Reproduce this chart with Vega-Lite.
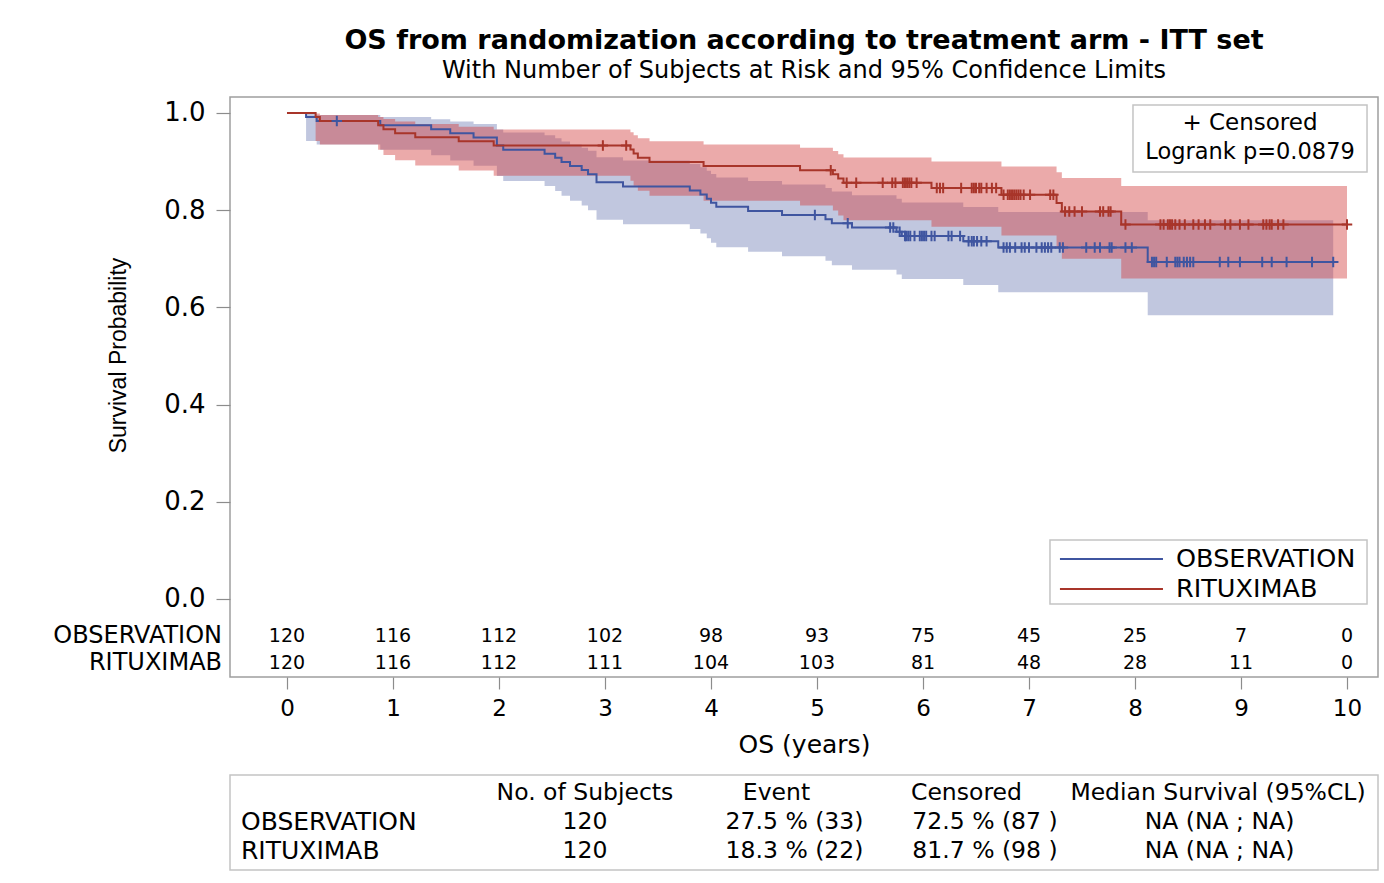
{
  "$schema": "https://vega.github.io/schema/vega-lite/v6.json",
  "width": 1148,
  "height": 580,
  "autosize": {"type": "none"},
  "padding": {"left": 230, "top": 97, "right": 6, "bottom": 206},
  "background": "white",
  "config": {
    "font": "DejaVu Sans",
    "view": {"stroke": "#9e9e9e", "strokeWidth": 1.5},
    "axis": {"grid": false, "domain": false, "tickColor": "#8c8c8c", "tickWidth": 1.2, "labelColor": "#000", "titleColor": "#000", "titleFontWeight": "normal", "labelFont": "DejaVu Sans"},
    "text": {"color": "#000", "baseline": "middle"}
  },
  "title": {
    "text": "OS from randomization according to treatment arm - ITT set",
    "subtitle": "With Number of Subjects at Risk and 95% Confidence Limits",
    "frame": "group",
    "anchor": "middle",
    "font": "DejaVu Sans",
    "fontSize": 27,
    "fontWeight": "bold",
    "color": "#000",
    "subtitleFont": "DejaVu Sans",
    "subtitleFontSize": 24,
    "subtitleColor": "#000",
    "offset": 13,
    "subtitlePadding": 4
  },
  "datasets": {
    "km": [
      {"arm": "OBSERVATION", "t": 0, "s": 1, "lo": 1, "hi": 1},
      {"arm": "OBSERVATION", "t": 0.18, "s": 0.9917, "lo": 0.9423, "hi": 0.9988},
      {"arm": "OBSERVATION", "t": 0.28, "s": 0.9833, "lo": 0.935, "hi": 0.9958},
      {"arm": "OBSERVATION", "t": 0.88, "s": 0.9749, "lo": 0.9243, "hi": 0.9918},
      {"arm": "OBSERVATION", "t": 1.36, "s": 0.9665, "lo": 0.9133, "hi": 0.9873},
      {"arm": "OBSERVATION", "t": 1.54, "s": 0.9581, "lo": 0.9023, "hi": 0.9824},
      {"arm": "OBSERVATION", "t": 1.76, "s": 0.9497, "lo": 0.8915, "hi": 0.9771},
      {"arm": "OBSERVATION", "t": 1.98, "s": 0.9329, "lo": 0.8703, "hi": 0.9659},
      {"arm": "OBSERVATION", "t": 2.04, "s": 0.9245, "lo": 0.8599, "hi": 0.96},
      {"arm": "OBSERVATION", "t": 2.43, "s": 0.9161, "lo": 0.8497, "hi": 0.954},
      {"arm": "OBSERVATION", "t": 2.53, "s": 0.9077, "lo": 0.8395, "hi": 0.9478},
      {"arm": "OBSERVATION", "t": 2.59, "s": 0.8993, "lo": 0.8295, "hi": 0.9415},
      {"arm": "OBSERVATION", "t": 2.67, "s": 0.8909, "lo": 0.8195, "hi": 0.9352},
      {"arm": "OBSERVATION", "t": 2.78, "s": 0.8825, "lo": 0.8096, "hi": 0.9287},
      {"arm": "OBSERVATION", "t": 2.84, "s": 0.8741, "lo": 0.7999, "hi": 0.9221},
      {"arm": "OBSERVATION", "t": 2.92, "s": 0.8573, "lo": 0.7805, "hi": 0.9088},
      {"arm": "OBSERVATION", "t": 3.17, "s": 0.8489, "lo": 0.7709, "hi": 0.902},
      {"arm": "OBSERVATION", "t": 3.8, "s": 0.8405, "lo": 0.7614, "hi": 0.8951},
      {"arm": "OBSERVATION", "t": 3.9, "s": 0.8321, "lo": 0.7519, "hi": 0.8882},
      {"arm": "OBSERVATION", "t": 3.96, "s": 0.8237, "lo": 0.7425, "hi": 0.8813},
      {"arm": "OBSERVATION", "t": 4.0, "s": 0.8153, "lo": 0.7331, "hi": 0.8743},
      {"arm": "OBSERVATION", "t": 4.05, "s": 0.8069, "lo": 0.7238, "hi": 0.8672},
      {"arm": "OBSERVATION", "t": 4.35, "s": 0.7985, "lo": 0.7145, "hi": 0.8601},
      {"arm": "OBSERVATION", "t": 4.67, "s": 0.79, "lo": 0.7053, "hi": 0.8529},
      {"arm": "OBSERVATION", "t": 5.08, "s": 0.7816, "lo": 0.696, "hi": 0.8457},
      {"arm": "OBSERVATION", "t": 5.14, "s": 0.7731, "lo": 0.6868, "hi": 0.8384},
      {"arm": "OBSERVATION", "t": 5.33, "s": 0.7645, "lo": 0.6774, "hi": 0.8309},
      {"arm": "OBSERVATION", "t": 5.75, "s": 0.7557, "lo": 0.6678, "hi": 0.8233},
      {"arm": "OBSERVATION", "t": 5.8, "s": 0.7468, "lo": 0.6582, "hi": 0.8156},
      {"arm": "OBSERVATION", "t": 6.38, "s": 0.7361, "lo": 0.6461, "hi": 0.8066},
      {"arm": "OBSERVATION", "t": 6.71, "s": 0.7234, "lo": 0.6311, "hi": 0.7963},
      {"arm": "OBSERVATION", "t": 8.12, "s": 0.6933, "lo": 0.5836, "hi": 0.7795},
      {"arm": "OBSERVATION", "t": 9.87, "s": 0.6933, "lo": 0.5836, "hi": 0.7795},
      {"arm": "RITUXIMAB", "t": 0, "s": 1, "lo": 1, "hi": 1},
      {"arm": "RITUXIMAB", "t": 0.27, "s": 0.9917, "lo": 0.9423, "hi": 0.9988},
      {"arm": "RITUXIMAB", "t": 0.31, "s": 0.9833, "lo": 0.935, "hi": 0.9958},
      {"arm": "RITUXIMAB", "t": 0.86, "s": 0.975, "lo": 0.9245, "hi": 0.9919},
      {"arm": "RITUXIMAB", "t": 0.91, "s": 0.9667, "lo": 0.9136, "hi": 0.9874},
      {"arm": "RITUXIMAB", "t": 1.02, "s": 0.9583, "lo": 0.9028, "hi": 0.9824},
      {"arm": "RITUXIMAB", "t": 1.21, "s": 0.95, "lo": 0.8921, "hi": 0.9772},
      {"arm": "RITUXIMAB", "t": 1.62, "s": 0.9417, "lo": 0.8816, "hi": 0.9718},
      {"arm": "RITUXIMAB", "t": 1.95, "s": 0.9333, "lo": 0.8711, "hi": 0.9661},
      {"arm": "RITUXIMAB", "t": 3.24, "s": 0.9249, "lo": 0.8605, "hi": 0.9602},
      {"arm": "RITUXIMAB", "t": 3.27, "s": 0.9164, "lo": 0.8501, "hi": 0.9541},
      {"arm": "RITUXIMAB", "t": 3.31, "s": 0.9079, "lo": 0.8398, "hi": 0.9479},
      {"arm": "RITUXIMAB", "t": 3.42, "s": 0.8994, "lo": 0.8296, "hi": 0.9416},
      {"arm": "RITUXIMAB", "t": 3.93, "s": 0.8909, "lo": 0.8195, "hi": 0.9352},
      {"arm": "RITUXIMAB", "t": 4.84, "s": 0.8823, "lo": 0.8094, "hi": 0.9286},
      {"arm": "RITUXIMAB", "t": 5.15, "s": 0.8737, "lo": 0.7992, "hi": 0.9219},
      {"arm": "RITUXIMAB", "t": 5.2, "s": 0.865, "lo": 0.7891, "hi": 0.9151},
      {"arm": "RITUXIMAB", "t": 5.25, "s": 0.8564, "lo": 0.7791, "hi": 0.9082},
      {"arm": "RITUXIMAB", "t": 6.08, "s": 0.8457, "lo": 0.7659, "hi": 0.9},
      {"arm": "RITUXIMAB", "t": 6.74, "s": 0.832, "lo": 0.7478, "hi": 0.8901},
      {"arm": "RITUXIMAB", "t": 7.26, "s": 0.8147, "lo": 0.7234, "hi": 0.8783},
      {"arm": "RITUXIMAB", "t": 7.31, "s": 0.7974, "lo": 0.7002, "hi": 0.866},
      {"arm": "RITUXIMAB", "t": 7.87, "s": 0.7708, "lo": 0.6594, "hi": 0.8498},
      {"arm": "RITUXIMAB", "t": 10.0, "s": 0.7708, "lo": 0.6594, "hi": 0.8498}
    ],
    "cens": [
      {"arm": "OBSERVATION", "t": 0.47, "s": 0.9833},
      {"arm": "OBSERVATION", "t": 4.98, "s": 0.79},
      {"arm": "OBSERVATION", "t": 5.29, "s": 0.7731},
      {"arm": "OBSERVATION", "t": 5.69, "s": 0.7645},
      {"arm": "OBSERVATION", "t": 5.72, "s": 0.7645},
      {"arm": "OBSERVATION", "t": 5.78, "s": 0.7557},
      {"arm": "OBSERVATION", "t": 5.83, "s": 0.7468},
      {"arm": "OBSERVATION", "t": 5.84, "s": 0.7468},
      {"arm": "OBSERVATION", "t": 5.86, "s": 0.7468},
      {"arm": "OBSERVATION", "t": 5.88, "s": 0.7468},
      {"arm": "OBSERVATION", "t": 5.92, "s": 0.7468},
      {"arm": "OBSERVATION", "t": 5.97, "s": 0.7468},
      {"arm": "OBSERVATION", "t": 5.99, "s": 0.7468},
      {"arm": "OBSERVATION", "t": 6.01, "s": 0.7468},
      {"arm": "OBSERVATION", "t": 6.03, "s": 0.7468},
      {"arm": "OBSERVATION", "t": 6.08, "s": 0.7468},
      {"arm": "OBSERVATION", "t": 6.11, "s": 0.7468},
      {"arm": "OBSERVATION", "t": 6.24, "s": 0.7468},
      {"arm": "OBSERVATION", "t": 6.27, "s": 0.7468},
      {"arm": "OBSERVATION", "t": 6.35, "s": 0.7468},
      {"arm": "OBSERVATION", "t": 6.43, "s": 0.7361},
      {"arm": "OBSERVATION", "t": 6.46, "s": 0.7361},
      {"arm": "OBSERVATION", "t": 6.48, "s": 0.7361},
      {"arm": "OBSERVATION", "t": 6.51, "s": 0.7361},
      {"arm": "OBSERVATION", "t": 6.55, "s": 0.7361},
      {"arm": "OBSERVATION", "t": 6.6, "s": 0.7361},
      {"arm": "OBSERVATION", "t": 6.76, "s": 0.7234},
      {"arm": "OBSERVATION", "t": 6.79, "s": 0.7234},
      {"arm": "OBSERVATION", "t": 6.82, "s": 0.7234},
      {"arm": "OBSERVATION", "t": 6.87, "s": 0.7234},
      {"arm": "OBSERVATION", "t": 6.93, "s": 0.7234},
      {"arm": "OBSERVATION", "t": 6.96, "s": 0.7234},
      {"arm": "OBSERVATION", "t": 7.0, "s": 0.7234},
      {"arm": "OBSERVATION", "t": 7.07, "s": 0.7234},
      {"arm": "OBSERVATION", "t": 7.12, "s": 0.7234},
      {"arm": "OBSERVATION", "t": 7.15, "s": 0.7234},
      {"arm": "OBSERVATION", "t": 7.18, "s": 0.7234},
      {"arm": "OBSERVATION", "t": 7.21, "s": 0.7234},
      {"arm": "OBSERVATION", "t": 7.29, "s": 0.7234},
      {"arm": "OBSERVATION", "t": 7.32, "s": 0.7234},
      {"arm": "OBSERVATION", "t": 7.54, "s": 0.7234},
      {"arm": "OBSERVATION", "t": 7.62, "s": 0.7234},
      {"arm": "OBSERVATION", "t": 7.67, "s": 0.7234},
      {"arm": "OBSERVATION", "t": 7.76, "s": 0.7234},
      {"arm": "OBSERVATION", "t": 7.78, "s": 0.7234},
      {"arm": "OBSERVATION", "t": 7.91, "s": 0.7234},
      {"arm": "OBSERVATION", "t": 7.97, "s": 0.7234},
      {"arm": "OBSERVATION", "t": 8.16, "s": 0.6933},
      {"arm": "OBSERVATION", "t": 8.18, "s": 0.6933},
      {"arm": "OBSERVATION", "t": 8.2, "s": 0.6933},
      {"arm": "OBSERVATION", "t": 8.3, "s": 0.6933},
      {"arm": "OBSERVATION", "t": 8.38, "s": 0.6933},
      {"arm": "OBSERVATION", "t": 8.4, "s": 0.6933},
      {"arm": "OBSERVATION", "t": 8.42, "s": 0.6933},
      {"arm": "OBSERVATION", "t": 8.46, "s": 0.6933},
      {"arm": "OBSERVATION", "t": 8.49, "s": 0.6933},
      {"arm": "OBSERVATION", "t": 8.52, "s": 0.6933},
      {"arm": "OBSERVATION", "t": 8.55, "s": 0.6933},
      {"arm": "OBSERVATION", "t": 8.8, "s": 0.6933},
      {"arm": "OBSERVATION", "t": 8.88, "s": 0.6933},
      {"arm": "OBSERVATION", "t": 8.99, "s": 0.6933},
      {"arm": "OBSERVATION", "t": 9.2, "s": 0.6933},
      {"arm": "OBSERVATION", "t": 9.29, "s": 0.6933},
      {"arm": "OBSERVATION", "t": 9.43, "s": 0.6933},
      {"arm": "OBSERVATION", "t": 9.67, "s": 0.6933},
      {"arm": "OBSERVATION", "t": 9.87, "s": 0.6933},
      {"arm": "RITUXIMAB", "t": 2.98, "s": 0.9333},
      {"arm": "RITUXIMAB", "t": 3.2, "s": 0.9333},
      {"arm": "RITUXIMAB", "t": 5.13, "s": 0.8823},
      {"arm": "RITUXIMAB", "t": 5.28, "s": 0.8564},
      {"arm": "RITUXIMAB", "t": 5.37, "s": 0.8564},
      {"arm": "RITUXIMAB", "t": 5.62, "s": 0.8564},
      {"arm": "RITUXIMAB", "t": 5.71, "s": 0.8564},
      {"arm": "RITUXIMAB", "t": 5.74, "s": 0.8564},
      {"arm": "RITUXIMAB", "t": 5.81, "s": 0.8564},
      {"arm": "RITUXIMAB", "t": 5.83, "s": 0.8564},
      {"arm": "RITUXIMAB", "t": 5.85, "s": 0.8564},
      {"arm": "RITUXIMAB", "t": 5.87, "s": 0.8564},
      {"arm": "RITUXIMAB", "t": 5.89, "s": 0.8564},
      {"arm": "RITUXIMAB", "t": 5.94, "s": 0.8564},
      {"arm": "RITUXIMAB", "t": 6.13, "s": 0.8457},
      {"arm": "RITUXIMAB", "t": 6.16, "s": 0.8457},
      {"arm": "RITUXIMAB", "t": 6.19, "s": 0.8457},
      {"arm": "RITUXIMAB", "t": 6.36, "s": 0.8457},
      {"arm": "RITUXIMAB", "t": 6.46, "s": 0.8457},
      {"arm": "RITUXIMAB", "t": 6.48, "s": 0.8457},
      {"arm": "RITUXIMAB", "t": 6.5, "s": 0.8457},
      {"arm": "RITUXIMAB", "t": 6.53, "s": 0.8457},
      {"arm": "RITUXIMAB", "t": 6.55, "s": 0.8457},
      {"arm": "RITUXIMAB", "t": 6.6, "s": 0.8457},
      {"arm": "RITUXIMAB", "t": 6.65, "s": 0.8457},
      {"arm": "RITUXIMAB", "t": 6.69, "s": 0.8457},
      {"arm": "RITUXIMAB", "t": 6.76, "s": 0.832},
      {"arm": "RITUXIMAB", "t": 6.8, "s": 0.832},
      {"arm": "RITUXIMAB", "t": 6.82, "s": 0.832},
      {"arm": "RITUXIMAB", "t": 6.84, "s": 0.832},
      {"arm": "RITUXIMAB", "t": 6.86, "s": 0.832},
      {"arm": "RITUXIMAB", "t": 6.88, "s": 0.832},
      {"arm": "RITUXIMAB", "t": 6.9, "s": 0.832},
      {"arm": "RITUXIMAB", "t": 6.92, "s": 0.832},
      {"arm": "RITUXIMAB", "t": 6.95, "s": 0.832},
      {"arm": "RITUXIMAB", "t": 7.01, "s": 0.832},
      {"arm": "RITUXIMAB", "t": 7.2, "s": 0.832},
      {"arm": "RITUXIMAB", "t": 7.23, "s": 0.832},
      {"arm": "RITUXIMAB", "t": 7.34, "s": 0.7974},
      {"arm": "RITUXIMAB", "t": 7.38, "s": 0.7974},
      {"arm": "RITUXIMAB", "t": 7.43, "s": 0.7974},
      {"arm": "RITUXIMAB", "t": 7.5, "s": 0.7974},
      {"arm": "RITUXIMAB", "t": 7.67, "s": 0.7974},
      {"arm": "RITUXIMAB", "t": 7.7, "s": 0.7974},
      {"arm": "RITUXIMAB", "t": 7.75, "s": 0.7974},
      {"arm": "RITUXIMAB", "t": 7.77, "s": 0.7974},
      {"arm": "RITUXIMAB", "t": 7.91, "s": 0.7708},
      {"arm": "RITUXIMAB", "t": 8.24, "s": 0.7708},
      {"arm": "RITUXIMAB", "t": 8.27, "s": 0.7708},
      {"arm": "RITUXIMAB", "t": 8.31, "s": 0.7708},
      {"arm": "RITUXIMAB", "t": 8.33, "s": 0.7708},
      {"arm": "RITUXIMAB", "t": 8.35, "s": 0.7708},
      {"arm": "RITUXIMAB", "t": 8.38, "s": 0.7708},
      {"arm": "RITUXIMAB", "t": 8.42, "s": 0.7708},
      {"arm": "RITUXIMAB", "t": 8.47, "s": 0.7708},
      {"arm": "RITUXIMAB", "t": 8.55, "s": 0.7708},
      {"arm": "RITUXIMAB", "t": 8.6, "s": 0.7708},
      {"arm": "RITUXIMAB", "t": 8.66, "s": 0.7708},
      {"arm": "RITUXIMAB", "t": 8.71, "s": 0.7708},
      {"arm": "RITUXIMAB", "t": 8.85, "s": 0.7708},
      {"arm": "RITUXIMAB", "t": 8.9, "s": 0.7708},
      {"arm": "RITUXIMAB", "t": 8.99, "s": 0.7708},
      {"arm": "RITUXIMAB", "t": 9.07, "s": 0.7708},
      {"arm": "RITUXIMAB", "t": 9.21, "s": 0.7708},
      {"arm": "RITUXIMAB", "t": 9.24, "s": 0.7708},
      {"arm": "RITUXIMAB", "t": 9.27, "s": 0.7708},
      {"arm": "RITUXIMAB", "t": 9.29, "s": 0.7708},
      {"arm": "RITUXIMAB", "t": 9.35, "s": 0.7708},
      {"arm": "RITUXIMAB", "t": 9.4, "s": 0.7708},
      {"arm": "RITUXIMAB", "t": 10.0, "s": 0.7708}
    ],
    "risk": [
      {"arm": "OBSERVATION", "t": 0, "n": 120},
      {"arm": "OBSERVATION", "t": 1, "n": 116},
      {"arm": "OBSERVATION", "t": 2, "n": 112},
      {"arm": "OBSERVATION", "t": 3, "n": 102},
      {"arm": "OBSERVATION", "t": 4, "n": 98},
      {"arm": "OBSERVATION", "t": 5, "n": 93},
      {"arm": "OBSERVATION", "t": 6, "n": 75},
      {"arm": "OBSERVATION", "t": 7, "n": 45},
      {"arm": "OBSERVATION", "t": 8, "n": 25},
      {"arm": "OBSERVATION", "t": 9, "n": 7},
      {"arm": "OBSERVATION", "t": 10, "n": 0},
      {"arm": "RITUXIMAB", "t": 0, "n": 120},
      {"arm": "RITUXIMAB", "t": 1, "n": 116},
      {"arm": "RITUXIMAB", "t": 2, "n": 112},
      {"arm": "RITUXIMAB", "t": 3, "n": 111},
      {"arm": "RITUXIMAB", "t": 4, "n": 104},
      {"arm": "RITUXIMAB", "t": 5, "n": 103},
      {"arm": "RITUXIMAB", "t": 6, "n": 81},
      {"arm": "RITUXIMAB", "t": 7, "n": 48},
      {"arm": "RITUXIMAB", "t": 8, "n": 28},
      {"arm": "RITUXIMAB", "t": 9, "n": 11},
      {"arm": "RITUXIMAB", "t": 10, "n": 0}
    ],
    "summary": [
      {"arm": "OBSERVATION", "subjects": 120, "event": "27.5 % (33)", "censored": "72.5 % (87 )", "median": "NA (NA ; NA)"},
      {"arm": "RITUXIMAB", "subjects": 120, "event": "18.3 % (22)", "censored": "81.7 % (98 )", "median": "NA (NA ; NA)"}
    ],
    "notes": [
      {"censor": "+ Censored", "logrank": "Logrank p=0.0879", "h1": "No. of Subjects", "h2": "Event", "h3": "Censored", "h4": "Median Survival (95%CL)"}
    ]
  },
  "layer": [
    {
      "data": {"name": "km"},
      "transform": [{"filter": "datum.arm === 'OBSERVATION'"}],
      "mark": {"type": "area", "interpolate": "step-after", "color": "#C1C7DF", "opacity": 1},
      "encoding": {
        "x": {"field": "t", "type": "quantitative", "scale": {"domain": [-0.5377, 10.2925], "nice": false, "zero": false},
          "axis": {"values": [0, 1, 2, 3, 4, 5, 6, 7, 8, 9, 10], "format": "d", "title": "OS (years)", "titleFontSize": 25, "labelFontSize": 23, "tickSize": 12, "labelPadding": 8, "titlePadding": 12}},
        "y": {"field": "lo", "type": "quantitative", "scale": {"domain": [-0.1605, 1.0329], "nice": false, "zero": false},
          "axis": {"values": [0, 0.2, 0.4, 0.6, 0.8, 1], "format": ".1f", "title": "Survival Probability", "titleFont": "Liberation Sans", "titleFontSize": 23, "titleY": 258, "labelFontSize": 26, "tickSize": 14, "labelPadding": 11, "titlePadding": 33}},
        "y2": {"field": "hi"}
      }
    },
    {
      "data": {"name": "km"},
      "transform": [{"filter": "datum.arm === 'RITUXIMAB'"}],
      "mark": {"type": "area", "interpolate": "step-after", "color": "#D23E3E", "opacity": 0.44},
      "encoding": {
        "x": {"field": "t", "type": "quantitative"},
        "y": {"field": "lo", "type": "quantitative"},
        "y2": {"field": "hi"}
      }
    },
    {
      "data": {"name": "km"},
      "mark": {"type": "line", "interpolate": "step-after", "strokeWidth": 2},
      "encoding": {
        "x": {"field": "t", "type": "quantitative"},
        "y": {"field": "s", "type": "quantitative"},
        "color": {"field": "arm", "type": "nominal", "scale": {"domain": ["OBSERVATION", "RITUXIMAB"], "range": ["#3F55A0", "#A8352A"]}, "legend": null}
      }
    },
    {
      "data": {"name": "cens"},
      "mark": {"type": "point", "shape": "M-1,0H1M0,-1V1", "size": 110, "strokeWidth": 2, "filled": false, "opacity": 1},
      "encoding": {
        "x": {"field": "t", "type": "quantitative"},
        "y": {"field": "s", "type": "quantitative"},
        "color": {"field": "arm", "type": "nominal", "legend": null}
      }
    },
    {
      "data": {"name": "risk"},
      "transform": [{"filter": "datum.arm === 'OBSERVATION'"}],
      "mark": {"type": "text", "fontSize": 19},
      "encoding": {
        "x": {"field": "t", "type": "quantitative"},
        "y": {"datum": -0.0761},
        "text": {"field": "n", "type": "quantitative"}
      }
    },
    {
      "data": {"name": "risk"},
      "transform": [{"filter": "datum.arm === 'RITUXIMAB'"}],
      "mark": {"type": "text", "fontSize": 19},
      "encoding": {
        "x": {"field": "t", "type": "quantitative"},
        "y": {"datum": -0.1317},
        "text": {"field": "n", "type": "quantitative"}
      }
    },
    {
      "data": {"name": "summary"},
      "transform": [{"filter": "datum.arm === 'OBSERVATION'"}],
      "mark": {"type": "text", "fontSize": 24, "align": "right"},
      "encoding": {"x": {"datum": -0.613}, "y": {"datum": -0.0761}, "text": {"field": "arm"}}
    },
    {
      "data": {"name": "summary"},
      "transform": [{"filter": "datum.arm === 'RITUXIMAB'"}],
      "mark": {"type": "text", "fontSize": 24, "align": "right"},
      "encoding": {"x": {"datum": -0.613}, "y": {"datum": -0.1317}, "text": {"field": "arm"}}
    },
    {
      "data": {"name": "notes"},
      "mark": {"type": "rect", "filled": false, "color": "#c4c4c4", "strokeWidth": 1.5},
      "encoding": {"x": {"datum": 7.981}, "x2": {"datum": 10.189}, "y": {"datum": 1.0165}, "y2": {"datum": 0.8786}}
    },
    {
      "data": {"name": "notes"},
      "mark": {"type": "text", "fontSize": 23},
      "encoding": {"x": {"datum": 9.085}, "y": {"datum": 0.9794}, "text": {"field": "censor"}}
    },
    {
      "data": {"name": "notes"},
      "mark": {"type": "text", "fontSize": 22.5},
      "encoding": {"x": {"datum": 9.085}, "y": {"datum": 0.9198}, "text": {"field": "logrank"}}
    },
    {
      "data": {"name": "notes"},
      "mark": {"type": "rect", "filled": false, "color": "#c4c4c4", "strokeWidth": 1.5},
      "encoding": {"x": {"datum": 7.198}, "x2": {"datum": 10.189}, "y": {"datum": 0.1214}, "y2": {"datum": -0.0103}}
    },
    {
      "data": {"name": "summary"},
      "transform": [{"filter": "datum.arm === 'OBSERVATION'"}],
      "mark": {"type": "rule", "strokeWidth": 2},
      "encoding": {"x": {"datum": 7.292}, "x2": {"datum": 8.264}, "y": {"datum": 0.0823}, "color": {"field": "arm", "type": "nominal", "legend": null}}
    },
    {
      "data": {"name": "summary"},
      "transform": [{"filter": "datum.arm === 'RITUXIMAB'"}],
      "mark": {"type": "rule", "strokeWidth": 2},
      "encoding": {"x": {"datum": 7.292}, "x2": {"datum": 8.264}, "y": {"datum": 0.0206}, "color": {"field": "arm", "type": "nominal", "legend": null}}
    },
    {
      "data": {"name": "summary"},
      "transform": [{"filter": "datum.arm === 'OBSERVATION'"}],
      "mark": {"type": "text", "fontSize": 25.5, "align": "left"},
      "encoding": {"x": {"datum": 8.387}, "y": {"datum": 0.0823}, "text": {"field": "arm"}}
    },
    {
      "data": {"name": "summary"},
      "transform": [{"filter": "datum.arm === 'RITUXIMAB'"}],
      "mark": {"type": "text", "fontSize": 25.5, "align": "left"},
      "encoding": {"x": {"datum": 8.387}, "y": {"datum": 0.0206}, "text": {"field": "arm"}}
    },
    {
      "data": {"name": "notes"},
      "mark": {"type": "rect", "filled": false, "color": "#c4c4c4", "strokeWidth": 1.5},
      "encoding": {"x": {"datum": -0.5377}, "x2": {"datum": 10.2925}, "y": {"datum": -0.362}, "y2": {"datum": -0.5576}}
    },
    {
      "data": {"name": "notes"},
      "mark": {"type": "text", "fontSize": 23.5},
      "encoding": {"x": {"datum": 2.811}, "y": {"datum": -0.3992}, "text": {"field": "h1"}}
    },
    {
      "data": {"name": "notes"},
      "mark": {"type": "text", "fontSize": 23.5},
      "encoding": {"x": {"datum": 4.618}, "y": {"datum": -0.3992}, "text": {"field": "h2"}}
    },
    {
      "data": {"name": "notes"},
      "mark": {"type": "text", "fontSize": 23.5},
      "encoding": {"x": {"datum": 6.41}, "y": {"datum": -0.3992}, "text": {"field": "h3"}}
    },
    {
      "data": {"name": "notes"},
      "mark": {"type": "text", "fontSize": 23.5},
      "encoding": {"x": {"datum": 8.783}, "y": {"datum": -0.3992}, "text": {"field": "h4"}}
    },
    {
      "data": {"name": "summary"},
      "transform": [{"filter": "datum.arm === 'OBSERVATION'"}],
      "mark": {"type": "text", "fontSize": 25, "align": "left"},
      "encoding": {"x": {"datum": -0.434}, "y": {"datum": -0.4588}, "text": {"field": "arm"}}
    },
    {
      "data": {"name": "summary"},
      "transform": [{"filter": "datum.arm === 'RITUXIMAB'"}],
      "mark": {"type": "text", "fontSize": 25, "align": "left"},
      "encoding": {"x": {"datum": -0.434}, "y": {"datum": -0.5185}, "text": {"field": "arm"}}
    },
    {
      "data": {"name": "summary"},
      "transform": [{"filter": "datum.arm === 'OBSERVATION'"}],
      "mark": {"type": "text", "fontSize": 23.5},
      "encoding": {"x": {"datum": 2.811}, "y": {"datum": -0.4588}, "text": {"field": "subjects", "type": "quantitative"}}
    },
    {
      "data": {"name": "summary"},
      "transform": [{"filter": "datum.arm === 'RITUXIMAB'"}],
      "mark": {"type": "text", "fontSize": 23.5},
      "encoding": {"x": {"datum": 2.811}, "y": {"datum": -0.5185}, "text": {"field": "subjects", "type": "quantitative"}}
    },
    {
      "data": {"name": "summary"},
      "transform": [{"filter": "datum.arm === 'OBSERVATION'"}],
      "mark": {"type": "text", "fontSize": 23.5},
      "encoding": {"x": {"datum": 4.788}, "y": {"datum": -0.4588}, "text": {"field": "event"}}
    },
    {
      "data": {"name": "summary"},
      "transform": [{"filter": "datum.arm === 'RITUXIMAB'"}],
      "mark": {"type": "text", "fontSize": 23.5},
      "encoding": {"x": {"datum": 4.788}, "y": {"datum": -0.5185}, "text": {"field": "event"}}
    },
    {
      "data": {"name": "summary"},
      "transform": [{"filter": "datum.arm === 'OBSERVATION'"}],
      "mark": {"type": "text", "fontSize": 23.5},
      "encoding": {"x": {"datum": 6.585}, "y": {"datum": -0.4588}, "text": {"field": "censored"}}
    },
    {
      "data": {"name": "summary"},
      "transform": [{"filter": "datum.arm === 'RITUXIMAB'"}],
      "mark": {"type": "text", "fontSize": 23.5},
      "encoding": {"x": {"datum": 6.585}, "y": {"datum": -0.5185}, "text": {"field": "censored"}}
    },
    {
      "data": {"name": "summary"},
      "transform": [{"filter": "datum.arm === 'OBSERVATION'"}],
      "mark": {"type": "text", "fontSize": 23.5},
      "encoding": {"x": {"datum": 8.797}, "y": {"datum": -0.4588}, "text": {"field": "median"}}
    },
    {
      "data": {"name": "summary"},
      "transform": [{"filter": "datum.arm === 'RITUXIMAB'"}],
      "mark": {"type": "text", "fontSize": 23.5},
      "encoding": {"x": {"datum": 8.797}, "y": {"datum": -0.5185}, "text": {"field": "median"}}
    }
  ]
}
